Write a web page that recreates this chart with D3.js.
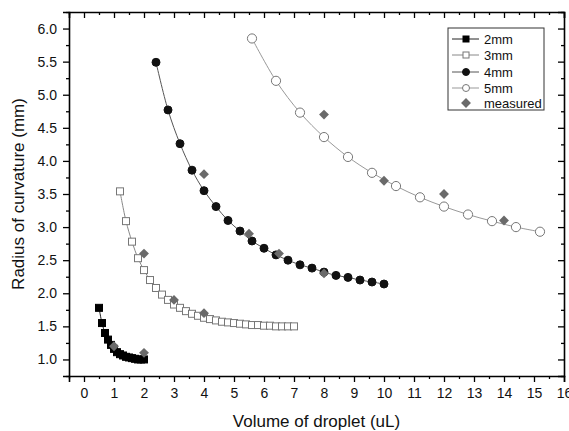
<!DOCTYPE html>
<html>
<head>
<meta charset="utf-8">
<script src="https://cdn.jsdelivr.net/npm/d3@7"></script>
<style>
  html, body { margin: 0; padding: 0; background: #fff; overflow: hidden; }
  svg { display: block; font-family: "Liberation Sans", Arial, sans-serif; }
</style>
</head>
<body>
<svg width="569" height="431"></svg>
<script>
  // data
  var x2mm = [0.5, 0.6, 0.7, 0.8, 0.9, 1.0, 1.1, 1.2, 1.3, 1.4, 1.5, 1.6, 1.7, 1.8, 1.9, 2.0];
  var y2mm = [1.78, 1.55, 1.40, 1.30, 1.22, 1.16, 1.11, 1.08, 1.06, 1.04, 1.03, 1.02, 1.01, 1.00, 1.00, 1.00];

  var x3mm = [1.2, 1.4, 1.6, 1.8, 2.0, 2.2, 2.4, 2.6, 2.8, 3.0, 3.2, 3.4, 3.6, 3.8, 4.0,
              4.2, 4.4, 4.6, 4.8, 5.0, 5.2, 5.4, 5.6, 5.8, 6.0, 6.2, 6.4, 6.6, 6.8, 7.0];
  var y3mm = [3.54, 3.09, 2.78, 2.53, 2.35, 2.20, 2.08, 1.98, 1.90, 1.83, 1.78, 1.73, 1.69, 1.66, 1.63,
              1.61, 1.59, 1.57, 1.56, 1.55, 1.54, 1.53, 1.52, 1.52, 1.51, 1.51, 1.50, 1.50, 1.50, 1.50];

  var x4mm = [2.4, 2.8, 3.2, 3.6, 4.0, 4.4, 4.8, 5.2, 5.6, 6.0, 6.4, 6.8, 7.2, 7.6, 8.0, 8.4, 8.8, 9.2, 9.6, 10.0];
  var y4mm = [5.49, 4.77, 4.26, 3.86, 3.55, 3.31, 3.10, 2.94, 2.79, 2.68, 2.58, 2.50, 2.43, 2.38, 2.32, 2.27, 2.24, 2.20, 2.17, 2.14];

  var x5mm = [5.6, 6.4, 7.2, 8.0, 8.8, 9.6, 10.4, 11.2, 12.0, 12.8, 13.6, 14.4, 15.2];
  var y5mm = [5.85, 5.21, 4.73, 4.36, 4.06, 3.82, 3.62, 3.45, 3.31, 3.19, 3.09, 3.00, 2.93];

  var xMeasured = [1, 2, 2, 3, 4, 4, 5.5, 6.5, 8, 8, 10, 12, 14];
  var yMeasured = [1.2, 1.1, 2.6, 1.9, 1.7, 3.8, 2.9, 2.6, 2.3, 4.7, 3.7, 3.5, 3.1];

  var xTicks = d3.range(0, 17, 1);
  var yTicks = [1.0, 1.5, 2.0, 2.5, 3.0, 3.5, 4.0, 4.5, 5.0, 5.5, 6.0];

  var svg = d3.select("svg");
  var margin = { top: 12, right: 5, bottom: 55, left: 69 };
  var width = +svg.attr("width");
  var height = +svg.attr("height");
  var innerWidth = width - margin.left - margin.right;
  var innerHeight = height - margin.top - margin.bottom;

  var xScale = d3.scaleLinear().domain([-0.5, 16]).range([0, innerWidth]);
  var yScale = d3.scaleLinear().domain([0.75, 6.25]).range([innerHeight, 0]);

  var g = svg.append("g")
    .attr("transform", "translate(" + margin.left + "," + margin.top + ")");

  function zip(xs, ys) {
    return xs.map(function (x, i) { return { x: x, y: ys[i] }; });
  }

  var line = d3.line()
    .x(function (d) { return xScale(d.x); })
    .y(function (d) { return yScale(d.y); })
    .curve(d3.curveCatmullRom);

  var series = [
    { name: "2mm", data: zip(x2mm, y2mm), line: "#222", shape: "square", fill: "#000", stroke: "#000", size: 7 },
    { name: "3mm", data: zip(x3mm, y3mm), line: "#888", shape: "square", fill: "#fff", stroke: "#777", size: 7 },
    { name: "4mm", data: zip(x4mm, y4mm), line: "#555", shape: "circle", fill: "#111", stroke: "#111", size: 4 },
    { name: "5mm", data: zip(x5mm, y5mm), line: "#999", shape: "circle", fill: "#fff", stroke: "#777", size: 4.6 }
  ];
  var measured = zip(xMeasured, yMeasured);

  function drawSymbol(sel, s) {
    if (s.shape === "square") {
      sel.append("rect")
        .attr("x", -s.size / 2).attr("y", -s.size / 2)
        .attr("width", s.size).attr("height", s.size)
        .attr("fill", s.fill).attr("stroke", s.stroke).attr("stroke-width", 1);
    } else {
      sel.append("circle")
        .attr("r", s.size)
        .attr("fill", s.fill).attr("stroke", s.stroke).attr("stroke-width", 1);
    }
  }

  // lines
  series.forEach(function (s) {
    g.append("path")
      .datum(s.data)
      .attr("d", line)
      .attr("fill", "none")
      .attr("stroke", s.line)
      .attr("stroke-width", 1);
  });

  // markers
  series.forEach(function (s) {
    g.append("g").selectAll("g")
      .data(s.data)
      .enter()
      .append("g")
      .attr("transform", function (d) { return "translate(" + xScale(d.x) + "," + yScale(d.y) + ")"; })
      .each(function () { drawSymbol(d3.select(this), s); });
  });

  var diamond = d3.symbol().type(d3.symbolDiamond2).size(62);
  g.append("g").selectAll("path")
    .data(measured)
    .enter()
    .append("path")
    .attr("d", diamond)
    .attr("transform", function (d) { return "translate(" + xScale(d.x) + "," + yScale(d.y) + ")"; })
    .attr("fill", "#6a6a6a");

  // axes
  var xMinor = d3.range(-0.5, 16.01, 0.5).filter(function (v) { return v % 1 !== 0; });
  var yMinor = d3.range(0.75, 6.26, 0.5);

  function minor(axis) {
    return function (sel) {
      sel.call(axis);
      sel.select(".domain").remove();
      sel.selectAll("text").remove();
    };
  }
  function noLabels(sel) { sel.selectAll("text").remove(); }

  var xAxis = d3.axisBottom(xScale).tickValues(xTicks).tickSize(6).tickPadding(6)
    .tickFormat(d3.format("d"));
  var xAxisGroup = g.append("g")
    .attr("transform", "translate(0," + innerHeight + ")")
    .call(xAxis);
  xAxisGroup.append("g").call(minor(d3.axisBottom(xScale).tickValues(xMinor).tickSize(3)));

  var yAxis = d3.axisLeft(yScale).tickValues(yTicks).tickSize(6).tickPadding(6)
    .tickFormat(d3.format(".1f"));
  var yAxisGroup = g.append("g").call(yAxis);
  yAxisGroup.append("g").call(minor(d3.axisLeft(yScale).tickValues(yMinor).tickSize(3)));

  // mirrored ticks on top and right, pointing inward
  var topGroup = g.append("g").call(d3.axisBottom(xScale).tickValues(xTicks).tickSize(6)).call(noLabels);
  topGroup.append("g").call(minor(d3.axisBottom(xScale).tickValues(xMinor).tickSize(3)));
  var rightGroup = g.append("g")
    .attr("transform", "translate(" + innerWidth + ",0)")
    .call(d3.axisLeft(yScale).tickValues(yTicks).tickSize(6)).call(noLabels);
  rightGroup.append("g").call(minor(d3.axisLeft(yScale).tickValues(yMinor).tickSize(3)));

  [xAxisGroup, yAxisGroup, topGroup, rightGroup].forEach(function (ax) {
    ax.selectAll(".domain").attr("stroke", "#000").attr("stroke-width", 1.6);
    ax.selectAll(".tick line").attr("stroke", "#000").attr("stroke-width", 1.3);
    ax.selectAll("text").attr("font-size", 14).attr("fill", "#111")
      .attr("font-family", "Liberation Sans, Arial, sans-serif");
  });

  // axis titles
  g.append("text")
    .text("Volume of droplet (uL)")
    .attr("x", innerWidth / 2)
    .attr("y", innerHeight + 51)
    .attr("text-anchor", "middle")
    .attr("font-size", 17)
    .attr("fill", "#111");

  g.append("text")
    .text("Radius of curvature (mm)")
    .attr("transform", "rotate(-90)")
    .attr("x", -innerHeight / 2)
    .attr("y", -45)
    .attr("text-anchor", "middle")
    .attr("font-size", 17)
    .attr("fill", "#111");

  // legend
  var legend = svg.append("g").attr("transform", "translate(448,28)");
  legend.append("rect")
    .attr("width", 96).attr("height", 82)
    .attr("fill", "#fff").attr("stroke", "#333").attr("stroke-width", 1);

  var rowY = [11, 27, 44, 60, 75];
  series.forEach(function (s, i) {
    var row = legend.append("g").attr("transform", "translate(0," + rowY[i] + ")");
    row.append("line").attr("x1", 4).attr("x2", 31).attr("stroke", s.line).attr("stroke-width", 1);
    var sym = row.append("g").attr("transform", "translate(18,0)");
    drawSymbol(sym, { shape: s.shape, fill: s.fill, stroke: s.stroke, size: s.shape === "square" ? 6 : 3.5 });
    row.append("text").text(s.name).attr("x", 36).attr("dy", "0.35em")
      .attr("font-size", 13).attr("fill", "#111");
  });
  var mRow = legend.append("g").attr("transform", "translate(0," + rowY[4] + ")");
  mRow.append("path").attr("d", diamond).attr("transform", "translate(18,0)").attr("fill", "#6a6a6a");
  mRow.append("text").text("measured").attr("x", 36).attr("dy", "0.35em")
    .attr("font-size", 13).attr("fill", "#111");
</script>
</body>
</html>
